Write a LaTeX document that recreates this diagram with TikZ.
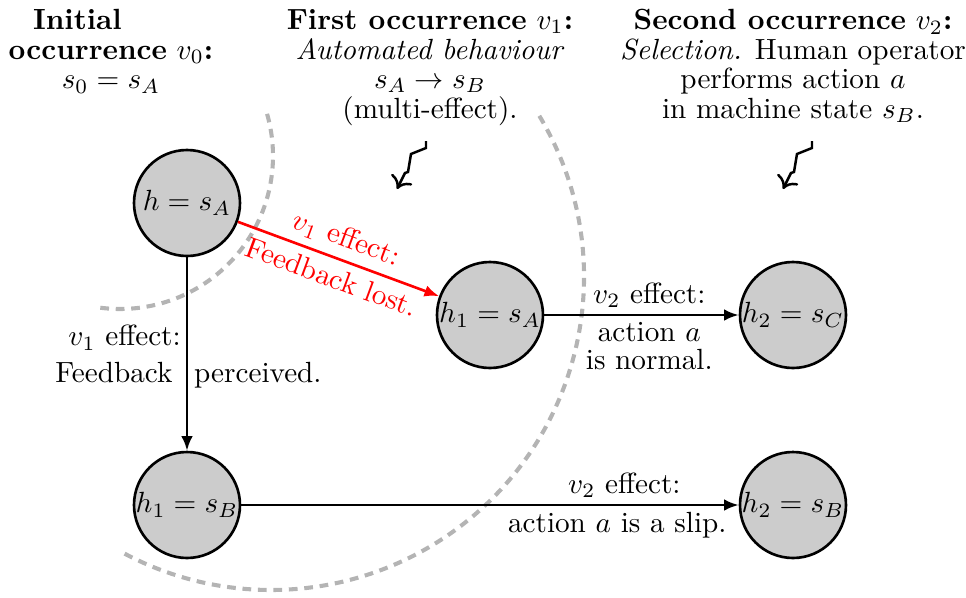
\documentclass[tikz,border=0pt]{standalone}
\usetikzlibrary{arrows.meta}
\begin{document}
\begin{tikzpicture}[x=0.3425pt,y=-0.3425pt,
  state/.style={circle,draw,line width=0.9pt,fill=black!20,minimum size=36.3pt,inner sep=0pt},
  arr/.style={line width=0.9pt,-{Latex[length=5pt,width=4pt]}},
  lbl/.style={inner sep=2pt,text height=7pt,text depth=2pt},
  head/.style={align=center,inner sep=0pt,anchor=north,font=\fontsize{10pt}{10.1pt}\selectfont},
  sepline/.style={draw={rgb,255:red,180;green,180;blue,180},line width=1.4pt,dash pattern=on 3pt off 2.3pt},
  zig/.style={line width=0.85pt,-{To[length=4pt,width=8pt]}}]
\useasboundingbox (0,0) rectangle (966,597);

% separators
\draw[sepline] ([shift={(120,156)}]16:52.4pt) arc[start angle=16,end angle=-98,radius=52.4pt];
\draw[sepline] ([shift={(271,277)}]31:107.2pt) arc[start angle=31,end angle=-119,radius=107.2pt];

% headings
\node[head] (t0) at (111,9) {\textbf{Initial}\hspace*{23pt}\\\textbf{occurrence} $v_0$\textbf{:}\\$s_0=s_A$};
\node[head] (t1) at (430,9) {\textbf{First occurrence} $v_1$\textbf{:}\\\textit{Automated behaviour}\\$s_A\rightarrow s_B$\\(multi-effect).};
\node[head] (t2) at (793,9) {\textbf{Second occurrence} $v_2$\textbf{:}\\\textit{Selection.} Human operator\\performs action $a$\\in machine state $s_B$.};

% lightning arrows
\draw[zig] (426,141) -- (426,148) -- (411,154) -- (408,172) -- (405,173) -- (397,189);
\draw[zig] (812,141) -- (812,148) -- (797,154) -- (794,172) -- (791,173) -- (783,189);

% states
\node[state] (hA) at (187,203) {$h=s_A$};
\node[state] (h1A) at (490,315) {$h_1=s_A$};
\node[state] (h2C) at (793,315) {$h_2=s_C$};
\node[state] (h1B) at (187,505) {$h_1=s_B$};
\node[state] (h2B) at (793,505) {$h_2=s_B$};

% transitions
\draw[arr] (hA) -- node[lbl,pos=0.42,left,inner sep=1.7pt]{$v_1$ effect:}
  node[lbl,pos=0.61,left,inner sep=4.5pt]{Feedback}
  node[lbl,pos=0.61,right,inner sep=2pt]{perceived.} (h1B);
\draw[arr,red] (hA) -- node[pos=0.5,sloped,above,inner sep=2.6pt]{$v_1$ effect:}
  node[pos=0.5,sloped,below,inner sep=2.6pt]{Feedback lost.} (h1A);
\draw[arr] (h1A) -- node[pos=0.54,above,inner sep=2pt]{$v_2$ effect:}
  node[pos=0.54,below,align=center,inner sep=2pt,font=\fontsize{10pt}{9.6pt}\selectfont]{action $a$\\is normal.} (h2C);
\draw[arr] (h1B) -- node[pos=0.77,above,inner sep=2pt]{$v_2$ effect:}
  node[pos=0.756,below,inner sep=2pt]{action $a$ is a slip.} (h2B);
\end{tikzpicture}
\end{document}
